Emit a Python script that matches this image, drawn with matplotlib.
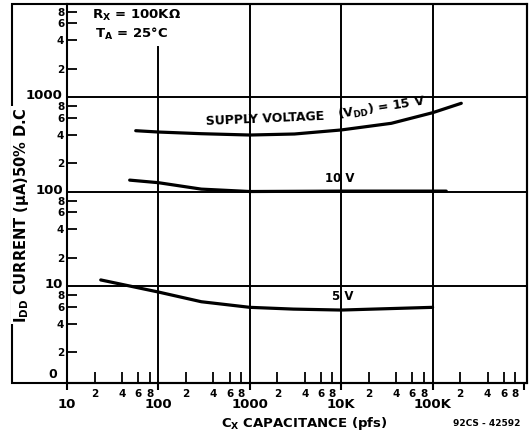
import numpy as np
import matplotlib.pyplot as plt
from matplotlib.patches import Rectangle
from matplotlib.ticker import FixedLocator, FixedFormatter
from matplotlib.transforms import ScaledTranslation

plt.rcParams['font.family'] = 'DejaVu Sans'
plt.rcParams['font.weight'] = 'bold'

# curves (Cx in pF, Idd in uA)
cap_15v = [56.5, 100, 295, 1000, 3080, 10000, 35400, 100000, 206000]
idd_15v = [440, 426, 409, 396, 406, 448, 527, 682, 858]
cap_10v = [48.5, 100, 295, 1000, 10000, 100000, 141000]
idd_10v = [132, 124, 106, 100, 101, 101, 101]
cap_5v = [23.4, 100, 295, 1000, 3000, 10000, 100000]
idd_5v = [11.6, 8.64, 6.82, 5.95, 5.7, 5.57, 5.95]

x_major = [10, 100, 1000, 1e4, 1e5, 1e6]
x_major_labels = ['10', '100', '1000', '10K', '100K', '']
y_major = [10, 100, 1000]
y_major_labels = ['10', '100', '1000']
minor_digits = [2, 4, 6, 8]

W, H = 531, 433
fig = plt.figure(figsize=(W / 100, H / 100), dpi=100)


def fx(p):
    return p / W


def fy(p):
    return 1 - p / H


ax = fig.add_axes([fx(67), fy(383), fx(527) - fx(67), fy(4) - fy(383)])
ax.set_xscale('log')
ax.set_yscale('log')
ax.set_xlim(10, 10 ** (1 + (527 - 67) / 91.4))
ax.set_ylim(10 ** -0.026, 10 ** 3.984)

x_minor = [d * 10 ** k for k in range(1, 6) for d in minor_digits]
y_minor = [d * 10 ** k for k in range(0, 4) for d in minor_digits]
ax.xaxis.set_major_locator(FixedLocator(x_major))
ax.xaxis.set_major_formatter(FixedFormatter(x_major_labels))
ax.xaxis.set_minor_locator(FixedLocator(x_minor))
ax.xaxis.set_minor_formatter(FixedFormatter([str(d) for k in range(1, 6) for d in minor_digits]))
ax.yaxis.set_major_locator(FixedLocator(y_major))
ax.yaxis.set_major_formatter(FixedFormatter(y_major_labels))
ax.yaxis.set_minor_locator(FixedLocator(y_minor))
ax.yaxis.set_minor_formatter(FixedFormatter([str(d) for k in range(0, 4) for d in minor_digits]))

ax.tick_params(axis='x', which='major', direction='out', length=5, width=1.5, pad=6, labelsize=9.5)
ax.tick_params(axis='x', which='minor', direction='in', length=8, width=1.3, pad=4, labelsize=7.5)
ax.tick_params(axis='y', which='major', length=0, pad=3, labelsize=9.5)
ax.tick_params(axis='y', which='minor', direction='in', length=7.5, width=1.3, pad=2, labelsize=7.5)
for s in ax.spines.values():
    s.set_linewidth(1.5)

# lift the decade labels a little so the "8" beside them stays clear
lift = ScaledTranslation(0, 2 / 72, fig.dpi_scale_trans)
for lbl in ax.yaxis.get_majorticklabels():
    lbl.set_transform(lbl.get_transform() + lift)

# grid lines; the one at 100 pF stops below the condition text
for v in x_major[1:5]:
    top = 1.0
    if v == 100:
        top = (np.log10(3400) + 0.026) / (3.984 + 0.026)
    ax.axvline(v, ymax=top, color='black', lw=1.4, zorder=1)
for v in y_major:
    ax.axhline(v, color='black', lw=1.4, zorder=1)

ax.plot(cap_15v, idd_15v, color='black', lw=2.3, solid_capstyle='round')
ax.plot(cap_10v, idd_10v, color='black', lw=2.3, solid_capstyle='round')
ax.plot(cap_5v, idd_5v, color='black', lw=2.3, solid_capstyle='round')

# outer border of the scanned graph
fig.add_artist(Rectangle((fx(12), fy(383)), fx(527) - fx(12), fy(4) - fy(383),
                         transform=fig.transFigure, fill=False, lw=1.5, color='black'))

fig.text(fx(53), fy(374), '0', fontsize=9, ha='center', va='center')
fig.text(fx(22), fy(215), r'I$_\mathbf{DD}$ CURRENT ($\mathbf{\mu}$A)50% D.C', rotation=90,
         fontsize=10.5, ha='center', va='center',
         bbox=dict(facecolor='white', edgecolor='none', pad=1))
fig.text(fx(92), fy(15), r'R$_\mathbf{X}$ = 100K$\mathbf{\Omega}$', fontsize=9.5, ha='left', va='center')
fig.text(fx(95), fy(34), r'T$_\mathbf{A}$ = 25°C', fontsize=9.5, ha='left', va='center')
fig.text(fx(265), fy(119), 'SUPPLY VOLTAGE', fontsize=9, ha='center', va='center', rotation=2.5)
fig.text(fx(382), fy(108), r'(V$_\mathbf{DD}$) = 15 V', fontsize=9, ha='center', va='center', rotation=9)
fig.text(fx(340), fy(178), '10 V', fontsize=8.5, ha='center', va='center')
fig.text(fx(343), fy(296), '5 V', fontsize=8.5, ha='center', va='center')
fig.text(fx(304), fy(423), r'C$_\mathbf{X}$ CAPACITANCE (pfs)', fontsize=9.5, ha='center', va='center')
fig.text(fx(487), fy(424), '92CS - 42592', fontsize=6.5, ha='center', va='center')

fig.savefig('out.png', dpi=100)
